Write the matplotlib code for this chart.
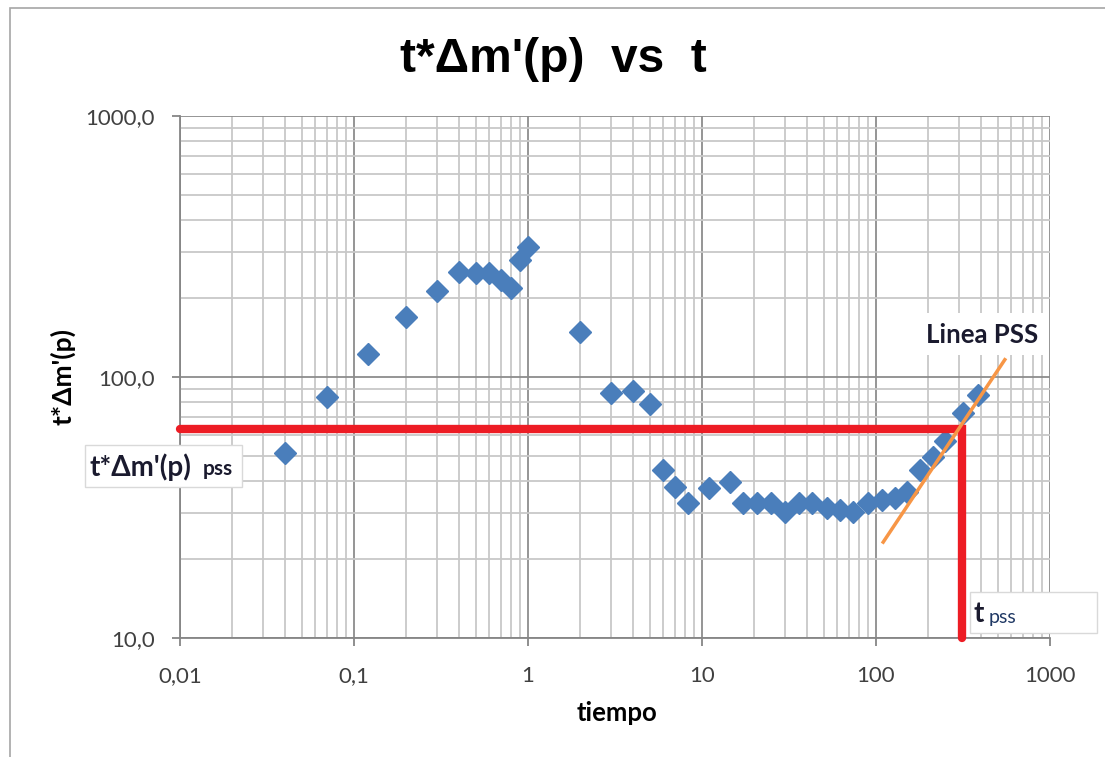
import matplotlib
matplotlib.use("Agg")
import matplotlib.pyplot as plt
from matplotlib.patches import Rectangle
from matplotlib.ticker import FixedLocator, FixedFormatter, LogLocator, NullFormatter

# datos
tiempo = [0.04, 0.07, 0.12, 0.2, 0.3, 0.4, 0.5, 0.6, 0.7, 0.8, 0.9, 1.0,
          2, 3, 4, 5, 6, 7, 8.3, 11, 14.5, 17.2, 20.7, 25, 30, 36, 43,
          52, 62, 74, 90, 108, 128, 150, 180, 213, 250, 316, 386]
tdm = [51, 84, 122, 170, 214, 252, 250, 250, 235, 220, 281, 315,
       149, 87, 88, 79, 44, 38, 33, 37.5, 39.5, 33, 33, 33, 30.4, 33, 33,
       31.5, 31, 30.3, 33, 33.8, 34.5, 36.3, 44, 49.3, 57, 72.8, 85]

# linea PSS (pendiente unitaria)
pss_t = [110, 550]
pss_v = [23.3, 116.5]

t_pss = 312
tdm_pss = 63

xticks = [0.01, 0.1, 1, 10, 100, 1000]
xlabels = ["0,01", "0,1", "1", "10", "100", "1000"]
yticks = [10, 100, 1000]
ylabels = ["10,0", "100,0", "1000,0"]

W, H = 1105, 757
fig = plt.figure(figsize=(W / 100, H / 100), dpi=100)
ax = fig.add_axes([180 / W, 1 - 638 / H, 870 / W, 522 / H])

def px(x, y):
    # pixel -> figure fraction
    return x / W, 1 - y / H

# marco exterior (solo se ven borde izquierdo y superior)
fig.patches.append(Rectangle(px(10, 780), 1120 / W, 772 / H, transform=fig.transFigure,
                             fill=False, edgecolor="#a6a6a6", lw=1.2, clip_on=False))

ax.set_xscale("log")
ax.set_yscale("log")
ax.set_xlim(0.01, 1000)
ax.set_ylim(10, 1000)

ax.xaxis.set_major_locator(FixedLocator(xticks))
ax.xaxis.set_major_formatter(FixedFormatter(xlabels))
ax.yaxis.set_major_locator(FixedLocator(yticks))
ax.yaxis.set_major_formatter(FixedFormatter(ylabels))
ax.xaxis.set_minor_locator(LogLocator(base=10, subs=range(2, 10)))
ax.yaxis.set_minor_locator(LogLocator(base=10, subs=range(2, 10)))
ax.xaxis.set_minor_formatter(NullFormatter())
ax.yaxis.set_minor_formatter(NullFormatter())

ax.grid(True, which="major", color="#8c8c8c", lw=1.3)
ax.grid(True, which="minor", color="#c8c8c8", lw=1.3)
ax.set_axisbelow(True)

for s in ["top", "right"]:
    ax.spines[s].set_visible(False)
for s in ["left", "bottom"]:
    ax.spines[s].set_color("#868686")
    ax.spines[s].set_linewidth(1.3)

ax.tick_params(which="major", length=6, width=1.3, color="#868686",
               labelsize=16, labelcolor="#404040", pad=12)
ax.tick_params(which="minor", length=0)
for lab in ax.get_xticklabels() + ax.get_yticklabels():
    lab.set_fontfamily("Lato")
ax.tick_params(axis="x", pad=14)

ax.plot(tiempo, tdm, linestyle="none", marker="D", ms=11, color="#4a7ebb",
        markeredgecolor="#4a7ebb", zorder=3)

ax.plot([0.01, t_pss, t_pss], [tdm_pss, tdm_pss, 10], color="#ed1c24", lw=6,
        solid_capstyle="round", solid_joinstyle="miter", clip_on=False, zorder=4)
ax.plot(pss_t, pss_v, color="#f79646", lw=2.5, zorder=5, clip_on=False)

fig.text(553 / W, 1 - 59 / H, "t*\u0394m'(p)  vs  t", ha="center", va="center",
         fontsize=34.5, fontweight="bold", family="Liberation Sans")
fig.text(*px(617, 713), "tiempo", ha="center", va="center", fontsize=18.5,
         fontweight="bold", family="Lato")
fig.text(*px(63, 376), "t*\u0394m'(p)", ha="center", va="center", rotation=90,
         fontsize=19, fontweight="bold", family="Lato")

# cuadros de texto
box = dict(transform=fig.transFigure, facecolor="white", edgecolor="#d9d9d9", lw=1, zorder=6)
fig.patches.append(Rectangle(px(85, 487), 157 / W, 42 / H, **box))
fig.text(*px(89, 467), "t*\u0394m'(p)", ha="left", va="center", fontsize=20,
         fontweight="bold", family="Lato", color="#1a1a2e", zorder=7)
fig.text(*px(203, 469), "pss", ha="left", va="center", fontsize=15,
         fontweight="bold", family="Lato", color="#1a1a2e", zorder=7)

fig.patches.append(Rectangle(px(970, 633), 127 / W, 41 / H, **box))
fig.text(*px(974, 614), "t", ha="left", va="center", fontsize=20,
         fontweight="bold", family="Lato", color="#1a1a2e", zorder=7)
fig.text(*px(989, 617), "pss", ha="left", va="center", fontsize=14,
         family="Lato", color="#1f3864", zorder=7)

fig.patches.append(Rectangle(px(920, 355), 127 / W, 42 / H, transform=fig.transFigure,
                             facecolor="white", edgecolor="none", zorder=6))
fig.text(*px(982, 335), "Linea PSS", ha="center", va="center", fontsize=18.5,
         fontweight="bold", family="Lato", color="#1a1a2e", zorder=7)

fig.savefig("out.png", dpi=100)
